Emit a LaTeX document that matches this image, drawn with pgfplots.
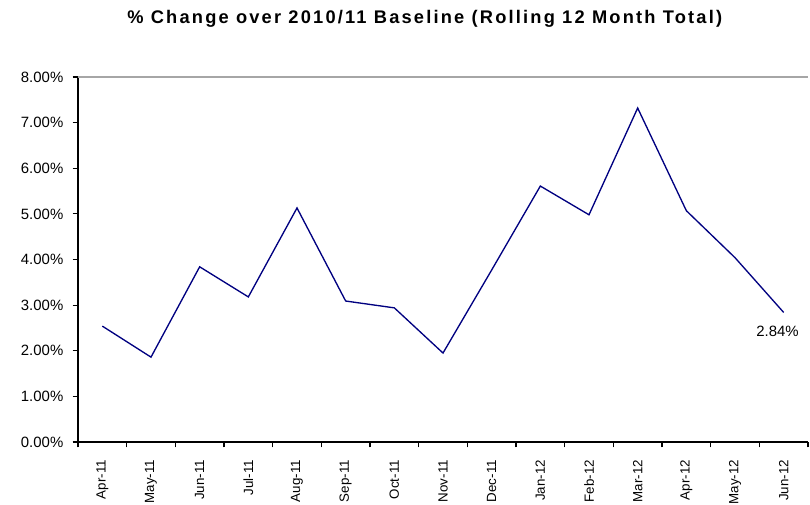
\documentclass[border=0pt]{standalone}
\usepackage{pgfplots}
\pgfplotsset{compat=1.18}
\usepackage{fontspec}
\setmainfont{Liberation Sans}
\definecolor{navyline}{RGB}{0,0,128}
\begin{document}
\begin{tikzpicture}
\useasboundingbox (-58.5pt,-46.5pt) rectangle (549pt,331.5pt);
\begin{axis}[
  at={(0,0)}, anchor=south west,
  scale only axis, width=547.5pt, height=273.75pt,
  xmin=-0.5, xmax=14.5, ymin=0, ymax=8,
  axis lines*=left,
  axis line style={black, line width=0.8pt},
  xtick={0,...,14},
  xticklabels={Apr-11,May-11,Jun-11,Jul-11,Aug-11,Sep-11,Oct-11,Nov-11,Dec-11,Jan-12,Feb-12,Mar-12,Apr-12,May-12,Jun-12},
  major x tick style={draw=none},
  minor xtick={-0.5,0.5,...,14.5},
  minor x tick style={black, line width=0.8pt},
  minor tick length=4pt,
  x tick label style={rotate=90, anchor=east, font=\fontsize{10}{12}\selectfont, xshift=-6pt},
  ytick={0,...,8},
  yticklabels={0.00\%,1.00\%,2.00\%,3.00\%,4.00\%,5.00\%,6.00\%,7.00\%,8.00\%},
  y tick label style={font=\fontsize{11.2}{12}\selectfont, xshift=-3.5pt},
  ytick style={black, line width=0.8pt},
  tick align=outside,
  major tick length=4pt,
  clip=false,
  title={\addfontfeature{LetterSpace=12}\bfseries \% Change over 2010/11 Baseline (Rolling 12 Month Total)},
  title style={font=\fontsize{13.7}{15}\selectfont, at={(0.475,1)}, anchor=center, yshift=38pt},
]
\draw[gray!70, line width=0.8pt] (axis cs:-0.5,8) -- (axis cs:14.5,8);
\addplot[navyline, line width=1pt, mark=none] coordinates {
(0,2.54) (1,1.86) (2,3.84) (3,3.18) (4,5.13) (5,3.09) (6,2.94) (7,1.95)
(8,3.77) (9,5.61) (10,4.98) (11,7.32) (12,5.07) (13,4.04) (14,2.84)
};
\node[anchor=north east, font=\fontsize{11.2}{12}\selectfont, xshift=12.5pt, yshift=-9pt, inner sep=1pt] at (axis cs:14,2.84) {2.84\%};
\end{axis}
\end{tikzpicture}
\end{document}
